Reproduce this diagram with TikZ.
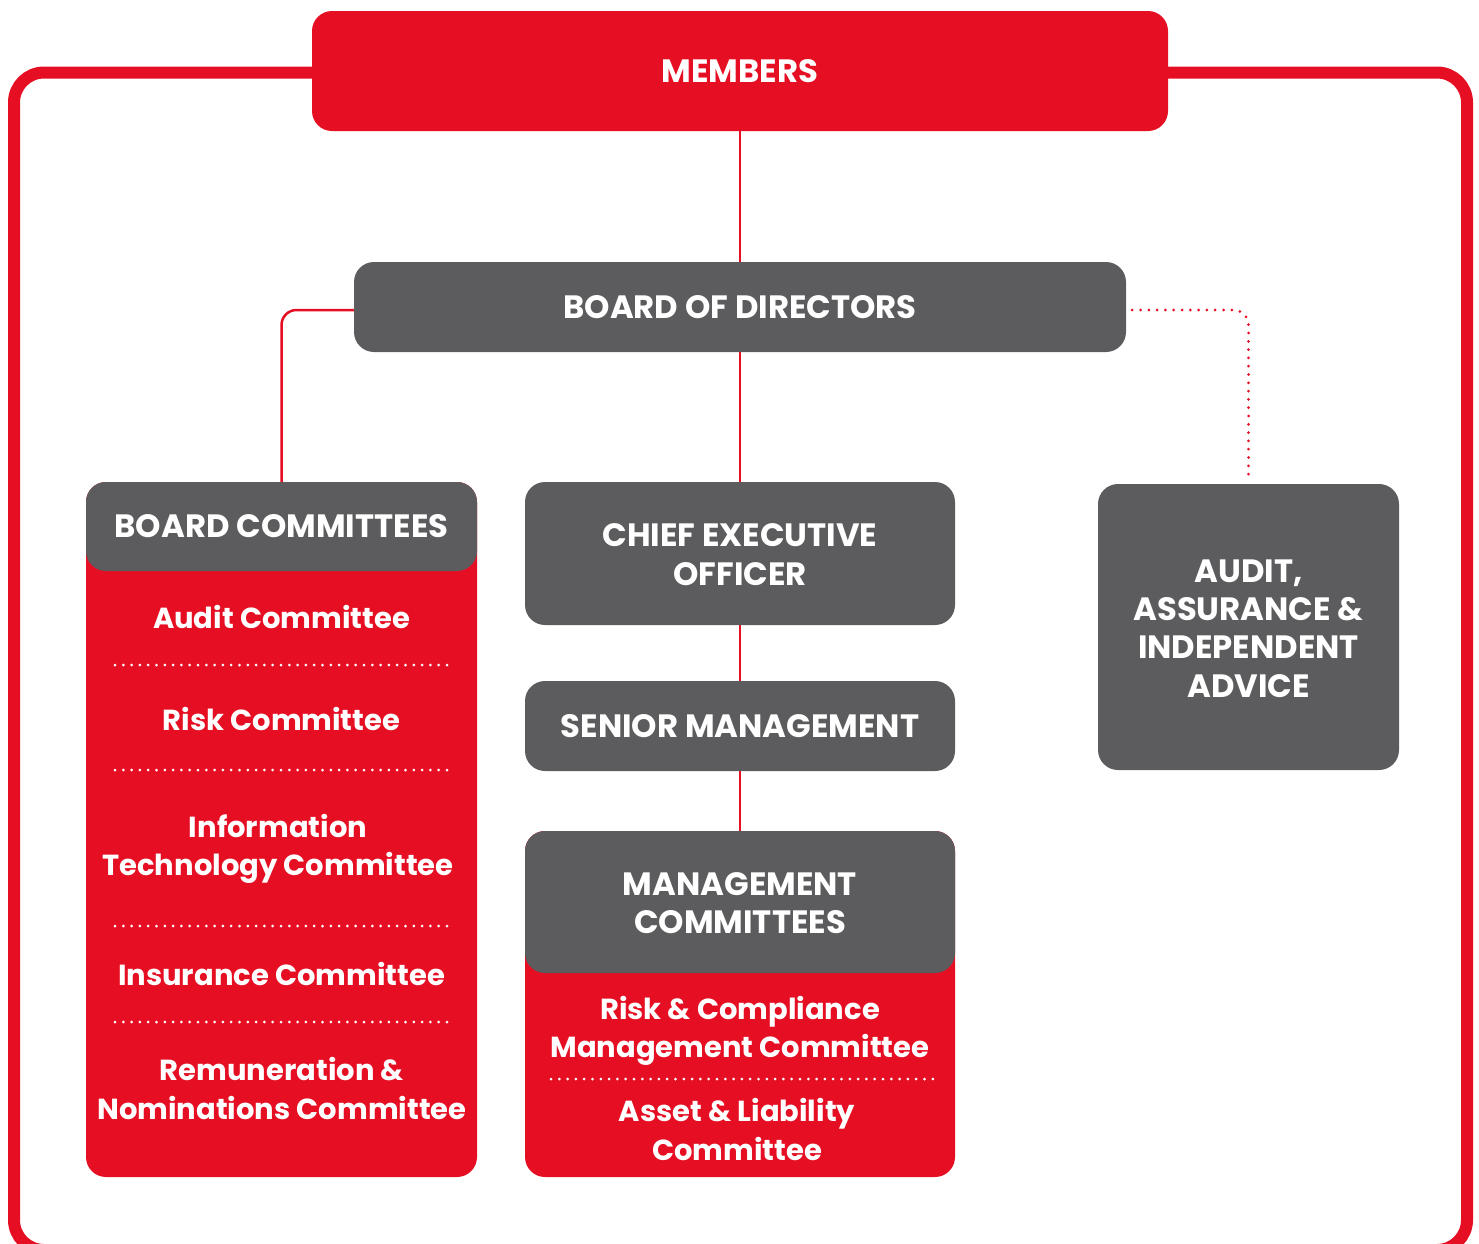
\documentclass[tikz,border=0pt]{standalone}
\usepackage{fontspec}
\setmainfont{Poppins}
\definecolor{orgred}{RGB}{229,14,34}
\definecolor{orggray}{RGB}{92,92,94}

\begin{document}
\begin{tikzpicture}[x=1pt,y=-1pt,
    font=\bfseries\fontsize{32.3}{38}\selectfont,
    redbox/.style={fill=orgred, rounded corners=20pt, inner sep=0pt, text=white},
    graybox/.style={fill=orggray, rounded corners=20pt, inner sep=0pt, text=white},
    txt/.style={text=white, anchor=base, inner sep=0pt},
    smalltxt/.style={txt, font=\bfseries\fontsize{29}{36}\selectfont},
    link/.style={draw=orgred, line width=2.5pt, rounded corners=15pt},
    dotlink/.style={draw=orgred, line width=3pt, line cap=round, dash pattern=on 0pt off 8.3pt, rounded corners=15pt},
    divider/.style={draw=white, line width=3pt, line cap=round, dash pattern=on 0pt off 8.3pt}]
    \clip (0,0) rectangle (1479,1243);
    \draw[draw=orgred, line width=12pt, rounded corners=30pt] (14,72.5) rectangle (1467,1250); % outer frame

    \node[redbox, minimum width=856pt, minimum height=120pt] (members) at (740,71) {MEMBERS};
    \node[graybox, minimum width=772pt, minimum height=90pt] (board) at (740,307) {BOARD OF DIRECTORS};

    % board committees
    \node[redbox, minimum width=391pt, minimum height=695pt] (bc) at (281.5,829.5) {};
    \node[graybox, minimum width=391pt, minimum height=89pt] (bchead) at (281.5,526.5) {BOARD COMMITTEES};
    \node[smalltxt] (bc1) at (281.5,628) {Audit Committee};
    \node[smalltxt] (bc2) at (281.5,730) {Risk Committee};
    \node[smalltxt] (bc3a) at (278,837) {Information};
    \node[smalltxt] (bc3b) at (278,875) {Technology Committee};
    \node[smalltxt] (bc4) at (281.5,985) {Insurance Committee};
    \node[smalltxt] (bc5a) at (282,1080) {Remuneration \&};
    \node[smalltxt] (bc5b) at (282,1119) {Nominations Committee};
    \foreach \y in {665,770,926,1022}
      \draw[divider] (115,\y) -- (453,\y);

    % centre column
    \node[graybox, minimum width=430pt, minimum height=143pt] (ceo) at (740,553.5) {};
    \node[txt] (ceo1) at (740,546) {CHIEF EXECUTIVE};
    \node[txt] (ceo2) at (740,585) {OFFICER};
    \node[graybox, minimum width=430pt, minimum height=90pt] (senior) at (740,726) {SENIOR MANAGEMENT};
    \node[redbox, minimum width=430pt, minimum height=346pt] (mc) at (740,1004) {};
    \node[graybox, minimum width=430pt, minimum height=142pt] (mchead) at (740,902) {};
    \node[txt] (mch1) at (740,895) {MANAGEMENT};
    \node[txt] (mch2) at (740,933) {COMMITTEES};
    \node[smalltxt] (mc1a) at (740,1019) {Risk \& Compliance};
    \node[smalltxt] (mc1b) at (740,1057) {Management Committee};
    \node[smalltxt] (mc2a) at (737,1121) {Asset \& Liability};
    \node[smalltxt] (mc2b) at (737,1160) {Committee};
    \draw[divider] (551,1079) -- (935,1079);

    % audit and advice
    \node[graybox, minimum width=301pt, minimum height=286pt] (audit) at (1248.5,627) {};
    \node[txt] (au1) at (1248.5,582) {AUDIT,};
    \node[txt] (au2) at (1248.5,620) {ASSURANCE \&};
    \node[txt] (au3) at (1248.5,658) {INDEPENDENT};
    \node[txt] (au4) at (1248.5,697) {ADVICE};

    \draw[link] (members) -- (board);
    \draw[link] (board) -- (ceo);
    \draw[link] (ceo) -- (senior);
    \draw[link] (senior) -- (mchead);
    \draw[link] ([yshift=-3pt]board.west) -| (bchead.north);
    \draw[dotlink] ([xshift=6pt,yshift=-3pt]board.east) -| ([yshift=4pt]audit.north);
\end{tikzpicture}
\end{document}
